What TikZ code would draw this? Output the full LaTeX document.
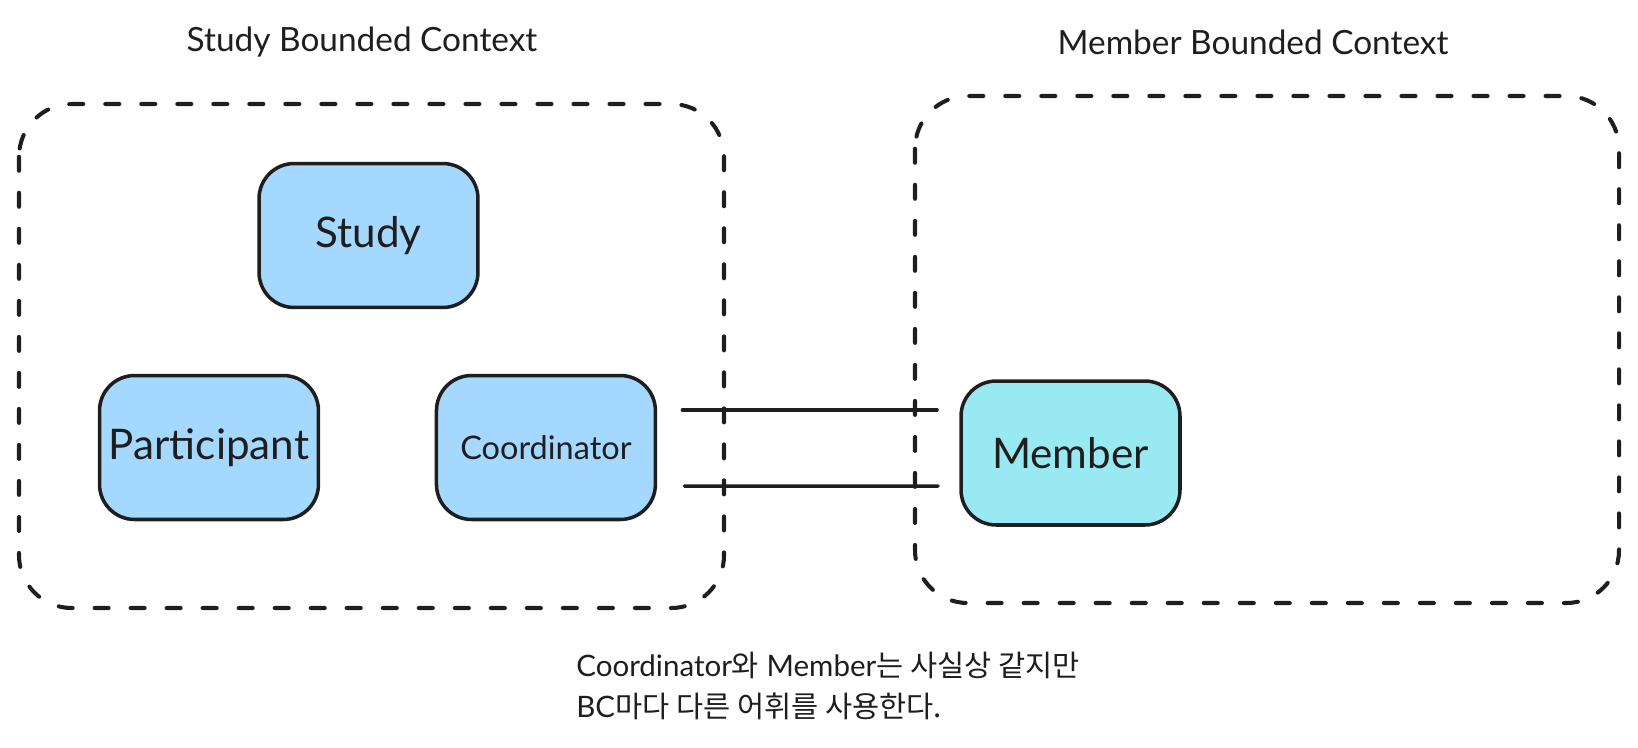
\documentclass[tikz,border=0pt]{standalone}
\usepackage{fontspec}
\setmainfont{Lato}
\newfontfamily\kofont{Noto Sans CJK KR}
\usepackage{xcolor}
\usetikzlibrary{positioning}

\definecolor{inkgray}{HTML}{1E1E1E}
\definecolor{studyblue}{HTML}{A5D8FF}
\definecolor{membercyan}{HTML}{99E9F2}

\tikzset{
  entity/.style={draw=inkgray, line width=2pt, rounded corners=20pt,
    minimum width=4.38cm, minimum height=2.88cm, inner sep=0pt, outer sep=0pt,
    text=inkgray, font=\fontsize{24}{28}\selectfont},
  context/.style={draw=inkgray, line width=2.3pt, rounded corners=30pt,
    dash pattern=on 8pt off 12.5pt, line cap=round},
  link/.style={draw=inkgray, line width=2pt, line cap=round},
  bctitle/.style={text=inkgray, font=\fontsize{19}{23}\selectfont}
}

\begin{document}
\begin{tikzpicture}[x=0.02cm, y=-0.02cm]
    \useasboundingbox (0,0) rectangle (1638,747);

    % bounded contexts
    \draw[context] (19,104) rectangle (724,608);
    \draw[context] (915,96) rectangle (1619,603);
    \node[bctitle] (studytitle) at (362,42) {Study Bounded Context};
    \node[bctitle] (membertitle) at (1253,42) {Member Bounded Context};

    \node[entity, fill=studyblue] (study) at (368.5,235.5) {Study};
    \node[entity, fill=studyblue] (participant) at (209,447.5) {Participant};
    \node[entity, fill=studyblue, right=2.36cm of participant,
      font=\fontsize{18.5}{22}\selectfont] (coordinator) {Coordinator};
    \node[entity, fill=membercyan] (member) at (1070.5,453) {Member};

    \draw[link] ([shift={(27,-37.5)}]coordinator.east) -- ([shift={(-24,-43)}]member.west);
    \draw[link] ([shift={(29,38.5)}]coordinator.east) -- ([shift={(-23,33)}]member.west);

    \node[anchor=west, align=left, inner sep=0pt, text=inkgray,
      font=\fontsize{16.8}{23.8}\selectfont] (note) at (576,686)
      {Coordinator{\kofont 와} Member{\kofont 는 사실상 같지만}\\
       BC{\kofont 마다 다른 어휘를 사용한다.}};
\end{tikzpicture}
\end{document}
